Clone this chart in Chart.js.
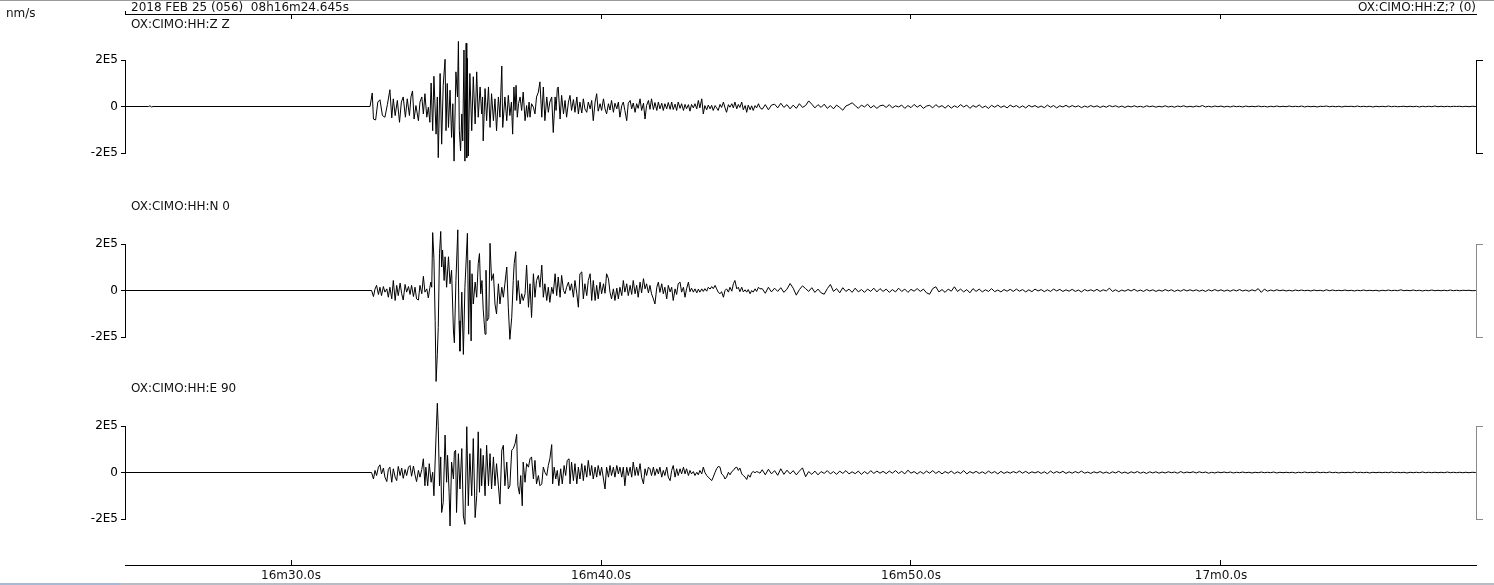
<!DOCTYPE html>
<html><head><meta charset="utf-8">
<script src="https://cdn.jsdelivr.net/npm/chart.js@4.4.1/dist/chart.umd.min.js"></script>
<style>
html,body{margin:0;padding:0;background:#fff;width:1494px;height:585px;overflow:hidden;font-family:"DejaVu Sans",sans-serif;font-size:12px;color:#111}
.c{position:absolute;left:0}
.tr{filter:contrast(2.2)}
.t{position:absolute;white-space:pre;line-height:14px;font-size:12px}
</style></head><body>
<div style="position:absolute;left:0;top:0;width:1494px;height:1px;background:#9a9a9a"></div>
<div style="position:absolute;left:0;top:583px;width:120px;height:2px;background:#a9b9d3"></div>
<div style="position:absolute;left:120px;top:583px;width:1374px;height:2px;background:#b8bcc4"></div>
<div class="c" style="top:0"><canvas id="frame" width="1494" height="585"></canvas></div>
<div class="c tr" style="top:30px"><canvas id="cz" width="1494" height="150"></canvas></div>
<div class="c tr" style="top:195px"><canvas id="cn" width="1494" height="195"></canvas></div>
<div class="c tr" style="top:395px"><canvas id="ce" width="1494" height="165"></canvas></div>
<div class="t" style="left:6px;top:6px">nm/s</div>
<div class="t" style="left:131px;top:0px">2018 FEB 25 (056)  08h16m24.645s</div>
<div class="t" style="right:18px;top:0px">OX:CIMO:HH:Z;? (0)</div>
<div class="t" style="left:131px;top:17px">OX:CIMO:HH:Z Z</div>
<div class="t" style="left:131px;top:199px">OX:CIMO:HH:N 0</div>
<div class="t" style="left:131px;top:381px">OX:CIMO:HH:E 90</div>
<script>
// time axis: seconds after 08h16m00s ; amplitudes in units of 1000 nm/s
const tMin = 24.645, tMax = 68.226;
const timeTickValues = [30, 40, 50, 60];
const timeTickLabels = ['16m30.0s', '16m40.0s', '16m50.0s', '17m0.0s'];
const ampTickValues = [-200, 0, 200];
const ampTickLabels = ['-2E5', '0', '2E5'];
const bracketTickValues = [-200, 200];

// ---- Z component: pre-event + main arrivals
const zOnsetTimes = [24.645, 25.40, 25.45, 25.50, 25.55, 32.55,
32.62, 32.66, 32.73, 32.80, 32.87, 32.95, 33.03, 33.11, 33.19, 33.25,
33.30, 33.36, 33.43, 33.50, 33.56, 33.62, 33.69, 33.75, 33.82, 33.87,
33.92, 33.97, 34.03, 34.11, 34.16, 34.22, 34.27, 34.32, 34.38, 34.43,
34.48, 34.52, 34.57, 34.61, 34.68, 34.72, 34.75, 34.81, 34.86, 34.91,
34.97, 35.00, 35.04, 35.08, 35.13, 35.18, 35.22, 35.26, 35.32, 35.37,
35.40, 35.43, 35.47, 35.51, 35.54, 35.58, 35.61, 35.65, 35.67, 35.69,
35.72, 35.77, 35.83, 35.88, 35.94, 35.99, 36.04, 36.10, 36.15, 36.18,
36.20, 36.26, 36.31, 36.37, 36.42, 36.47, 36.53, 36.58, 36.63, 36.69,
36.74, 36.80, 36.83, 36.90, 36.96, 37.01, 37.06, 37.11, 37.15, 37.19,
37.23, 37.26, 37.30, 37.34, 37.39, 37.44, 37.49, 37.55, 37.60, 37.63,
37.68, 37.71, 37.76, 37.82, 37.87, 37.92, 37.98, 38.03, 38.09, 38.14,
38.19, 38.25, 38.30, 38.35, 38.41, 38.46, 38.52, 38.55, 38.59, 38.62,
38.68, 38.73, 38.79, 38.84, 38.89, 38.95];
const zOnset = [0, 0, 3, -2, 0, 0,
58, -54, -58, 19, 29, -39, -46, 9, 72, -49,
33, -39, 26, -68, 19, 41, -46, 33, -39, 41,
67, -54, 4, -61, 19, 41, -32, 55, -46, -3,
-68, 101, -104, 130, -119, 41, -220, 142, -162, 91,
203, -104, 99, -90, 70, -133, 12, -235, 149, 41,
280, -104, -191, -32, -148, 243, -235, 272, -220, 207,
-213, 142, -104, 128, -75, 149, -46, 84, -32, 41,
-148, 77, -61, 84, -90, 55, -61, 33, -104, 41,
-46, 174, -90, 41, -61, 48, -39, 19, -119, 84,
-17, 91, -46, 12, 41, -17, 62, -61, 4, -46,
19, -46, 12, -3, -32, 41, 62, 106, -46, 84,
-61, 41, -25, 19, 41, -112, 41, -17, 77, 84,
-54, 48, -32, 26, -46, 19];

// ---- N component
const nOnsetTimes = [24.645, 32.60, 32.66, 32.71, 32.76, 32.82, 32.87, 32.92, 32.98, 33.03,
33.09, 33.14, 33.19, 33.25, 33.30, 33.36, 33.41, 33.46, 33.52, 33.57,
33.62, 33.68, 33.73, 33.79, 33.84, 33.89, 33.95, 34.00, 34.05, 34.11,
34.16, 34.22, 34.27, 34.32, 34.38, 34.43, 34.48, 34.51, 34.54, 34.57,
34.61, 34.65, 34.68, 34.72, 34.75, 34.79, 34.83, 34.86, 34.89, 34.94,
34.97, 35.02, 35.08, 35.13, 35.18, 35.24, 35.27, 35.32, 35.38, 35.42,
35.45, 35.51, 35.56, 35.61, 35.69, 35.73, 35.77, 35.81, 35.84, 35.88,
35.94, 35.99, 36.04, 36.08, 36.12, 36.16, 36.20, 36.26, 36.29, 36.33,
36.38, 36.42, 36.47, 36.53, 36.58, 36.63, 36.69, 36.74, 36.80, 36.85,
36.90, 36.96, 37.01, 37.06, 37.12, 37.17, 37.20, 37.25, 37.28, 37.33,
37.39, 37.44, 37.49, 37.55, 37.60, 37.66, 37.71, 37.76, 37.82, 37.87,
37.92, 37.98, 38.03, 38.09, 38.14, 38.19, 38.25, 38.30, 38.35, 38.41,
38.46, 38.52, 38.57, 38.62, 38.68, 38.73, 38.79, 38.84, 38.89, 38.95];
const nOnset = [0, 0, -26, 6, 22, -17, 14, -22, 17, -7,
7, -29, 14, -36, 43, -43, 22, -22, 32, -14,
-41, 26, -7, 17, -17, 22, -26, 14, -36, -41,
22, -14, 61, -7, 7, -32, 14, 36, 14, 249,
138, -130, -391, -275, -159, 159, 254, 101, 174, 43,
145, 14, 145, 29, 87, -174, -225, 43, 261, -130,
-261, -7, -275, 14, 246, -188, 130, -217, 72, -58,
36, -29, 116, 159, -14, 43, -80, -188, 87, -130,
-116, 203, 43, 72, -58, -101, 29, -58, 14, -29,
29, 101, -72, -210, -116, 43, 116, 167, -43, 43,
-58, -14, -43, -14, 109, -72, 29, -116, 72, -29,
43, 65, 14, 109, -29, 29, -43, 14, -51, 14,
-14, 72, -22, 58, -29, 65, 0, -14, 14, 36];

// ---- E component
const eOnsetTimes = [24.645, 32.60, 32.66, 32.71, 32.76, 32.82, 32.87, 32.92, 32.98, 33.03,
33.09, 33.14, 33.19, 33.25, 33.30, 33.36, 33.41, 33.46, 33.52, 33.57,
33.62, 33.68, 33.73, 33.79, 33.84, 33.89, 33.95, 34.00, 34.05, 34.11,
34.16, 34.22, 34.27, 34.32, 34.35, 34.41, 34.46, 34.52, 34.57, 34.61,
34.68, 34.72, 34.75, 34.79, 34.83, 34.86, 34.91, 34.97, 35.02, 35.05,
35.10, 35.13, 35.18, 35.24, 35.27, 35.31, 35.34, 35.40, 35.45, 35.51,
35.56, 35.61, 35.67, 35.72, 35.77, 35.83, 35.88, 35.94, 35.99, 36.04,
36.08, 36.12, 36.15, 36.20, 36.26, 36.31, 36.37, 36.42, 36.47, 36.53,
36.58, 36.63, 36.69, 36.74, 36.80, 36.85, 36.90, 36.96, 37.01, 37.06,
37.12, 37.17, 37.23, 37.28, 37.32, 37.37, 37.41, 37.46, 37.49, 37.55,
37.60, 37.66, 37.71, 37.76, 37.82, 37.87, 37.92, 37.98, 38.03, 38.09,
38.14, 38.19, 38.25, 38.30, 38.35, 38.41, 38.44, 38.49, 38.54, 38.59,
38.64, 38.70, 38.75, 38.81, 38.86, 38.91, 38.97];
const eOnset = [0, 0, -28, 9, -13, 23, 33, -6, 19, -20,
-39, 13, 23, -42, 16, -20, -35, 26, -13, 19,
-25, 13, -13, 23, 30, -16, 28, -10, -39, 9,
-20, 13, 59, -57, 23, -57, 38, -42, 1, -100,
161, 298, 197, -57, 67, -172, -129, 161, -42, 74,
-85, -230, 45, -28, 88, 96, -172, 81, -71, 103,
-187, -223, 197, -143, 81, -100, 146, -194, -100, 175,
-85, 103, -57, 74, -100, 117, -57, 81, -71, 67,
-57, 38, -57, -136, 96, 117, -57, 45, -71, -57,
96, 103, 125, 164, -57, -93, -13, -143, 45, -42,
38, 23, 59, 67, -28, 52, -49, -13, -57, -49,
23, 1, -13, 30, 59, 120, -49, 23, -28, 9,
-57, 16, -49, 30, -13, 52, 59];

// ---- coda (shared sample times)
const codaTimes = [39.00, 39.05, 39.11, 39.16, 39.22, 39.27, 39.32, 39.38, 39.43, 39.48,
39.54, 39.59, 39.65, 39.70, 39.75, 39.81, 39.86, 39.91, 39.97, 40.02,
40.08, 40.13, 40.18, 40.24, 40.29, 40.34, 40.40, 40.45, 40.51, 40.56,
40.61, 40.67, 40.72, 40.77, 40.83, 40.88, 40.94, 40.99, 41.04, 41.10,
41.15, 41.20, 41.26, 41.31, 41.37, 41.42, 41.47, 41.53, 41.58, 41.63,
41.69, 41.74, 41.80, 41.85, 41.90, 41.96, 42.01, 42.06, 42.12, 42.17,
42.23, 42.28, 42.33, 42.39, 42.44, 42.49, 42.55, 42.60, 42.66, 42.71,
42.76, 42.82, 42.87, 42.92, 42.98, 43.03, 43.09, 43.14, 43.19, 43.25,
43.30, 43.35, 43.41, 43.46, 43.52, 43.57, 43.62, 43.68, 43.73, 43.78,
43.84, 43.89, 43.95, 44.00, 44.05, 44.11, 44.16, 44.22, 44.27, 44.32,
44.38, 44.43, 44.48, 44.54, 44.59, 44.65, 44.70, 44.75, 44.81, 44.86,
44.91, 44.97, 45.02, 45.08, 45.13];
const zCoda = [48, -17, 30, -25, 41, -32, 19, -28, 33, -10,
-25, 19, -10, 26, -61, 19, 55, -20, 12, -17,
33, -10, -32, 12, -15, 26, -25, 14, -10, 19,
-46, 4, 19, -17, -61, 14, 26, -10, 15, -25,
12, -8, 33, -17, 14, -54, 4, 26, -12, 33,
-13, 17, -17, 19, -10, 14, -17, 12, -10, 17,
-12, 19, -13, 10, -17, 19, -8, 12, -17, 9,
-10, 8, -20, 9, -6, 12, -10, 26, -6, 33,
-32, 4, -14, 6, -10, 5, -17, 4, -6, -17,
9, -4, 19, -6, -25, 8, -3, 12, -6, 19,
-10, 9, -4, 19, -14, 4, -25, 6, -14, 3,
-17, 4, -6, 12, -5];
const nCoda = [0, 29, -29, 43, -14, -72, 72, 80, -36, 29,
-22, 43, 72, -43, 43, -43, 22, -36, 36, -14,
29, -12, 72, 51, -7, -36, 7, -43, 10, -36,
14, -22, 43, -7, 29, -22, 22, -17, 43, -14,
22, -29, 36, -10, 51, 7, 29, -10, 22, -14,
-36, -58, 14, 36, -8, 29, -14, 14, -36, 22,
-6, 14, -43, 7, -17, 29, 36, -7, 14, -29,
7, 36, -5, 10, -7, 7, -10, 6, -7, 7,
-4, 8, -3, 14, 6, 17, 8, 22, 7, -7,
-14, -5, -29, 0, 7, -7, 14, -3, 29, 43,
7, 14, -5, 14, -6, 3, -7, 4, -14, 0,
-7, 7, -4, 14, 7];
const eCoda = [-49, 45, -35, 38, -49, 23, -28, 38, -35, 30,
-20, 52, -13, 30, -28, 23, -20, 30, -13, 23,
-28, -71, 23, -20, 30, -13, 23, -20, 30, -6,
23, -20, 23, -57, 23, -13, 23, -20, 45, -13,
23, -13, 38, -20, -49, 16, -13, 23, 16, -13,
23, -13, 16, -6, 23, -20, 9, -13, 23, -20,
-35, 9, 30, -20, 16, -13, 16, -6, 23, -6,
16, -13, 9, -6, 4, -13, 1, -10, 9, -6,
23, 1, -13, -20, -28, -35, -20, 1, 16, 26,
23, -6, -13, -28, -20, 1, -10, 4, 9, 19,
23, 9, 19, -6, -13, -20, -30, -10, -20, -1,
4, -1, 4, 1, -3];

// ---- late tail (shared sample times)
const tailTimes = [45.2, 45.3, 45.4, 45.5, 45.6, 45.7, 45.8, 45.9, 46.0, 46.1,
46.2, 46.3, 46.4, 46.5, 46.6, 46.7, 46.8, 46.9, 47.0, 47.1,
47.2, 47.3, 47.4, 47.5, 47.6, 47.7, 47.8, 47.9, 48.0, 48.1,
48.2, 48.3, 48.4, 48.5, 48.6, 48.7, 48.8, 48.9, 49.0, 49.1,
49.2, 49.3, 49.4, 49.5, 49.6, 49.7, 49.8, 49.9, 50.0, 50.1,
50.2, 50.3, 50.4, 50.5, 50.6, 50.7, 50.8, 50.9, 51.0, 51.1,
51.2, 51.3, 51.4, 51.5, 51.6, 51.7, 51.8, 51.9, 52.0, 52.1,
52.2, 52.3, 52.4, 52.5, 52.6, 52.7, 52.8, 52.9, 53.0, 53.1,
53.2, 53.3, 53.4, 53.5, 53.6, 53.7, 53.8, 53.9, 54.0, 54.1,
54.2, 54.3, 54.4, 54.5, 54.6, 54.7, 54.8, 54.9, 55.0, 55.1,
55.2, 55.3, 55.4, 55.5, 55.6, 55.7, 55.8, 55.9, 56.0, 56.1,
56.2, 56.3, 56.4, 56.5, 56.6, 56.7, 56.8, 56.9, 57.0, 57.1,
57.2, 57.3, 57.4, 57.5, 57.6, 57.7, 57.8, 57.9, 58.0, 58.1,
58.2, 58.3, 58.4, 58.5, 58.6, 58.7, 58.8, 58.9, 59.0, 59.1,
59.2, 59.3, 59.4, 59.5, 59.6, 59.7, 59.8, 59.9, 60.0, 60.1,
60.2, 60.3, 60.4, 60.5, 60.6, 60.7, 60.8, 60.9, 61.0, 61.1,
61.2, 61.3, 61.4, 61.5, 61.6, 61.7, 61.8, 61.9, 62.0, 62.1,
62.2, 62.3, 62.4, 62.5, 62.6, 62.7, 62.8, 62.9, 63.0, 63.1,
63.2, 63.3, 63.4, 63.5, 63.6, 63.7, 63.8, 63.9, 64.0, 64.1,
64.2, 64.3, 64.4, 64.5, 64.6, 64.7, 64.8, 64.9, 65.0, 65.1,
65.2, 65.3, 65.4, 65.5, 65.6, 65.7, 65.8, 65.9, 66.0, 66.1,
66.2, 66.3, 66.4, 66.5, 66.6, 66.7, 66.8, 66.9, 67.0, 67.1,
67.2, 67.3, 67.4, 67.5, 67.6, 67.7, 67.8, 67.9, 68.0, 68.1,
68.22];
const zTail = [-12, 8, -14, 6, 10, -6, 14, -4, 8, -10,
6, -8, 12, -4, 4, 24, 10, -6, 8, -4,
10, -8, 4, -10, 6, -4, -16, 2, 8, 16,
4, -8, 6, -2, 10, -6, 4, -8, 3, 6,
-4, 8, -6, 3, -2, 6, -8, 4, -5, 9,
-3, 6, -8, 2, 5, -6, 8, -3, 4, -7,
5, -7, 3, -4, 8, -2, 6, -8, 4, -3,
7, -5, 2, -8, 5, -3, 6, -4, 3, -6,
6, -2, 4, -5, 3, -6, 5, -2, 4, -4,
2, -5, 6, -3, 4, -6, 3, -2, 5, -3,
4, -2, 3, -5, 2, -3, 4, -2, 3, -4,
2, -3, 4, -1, 3, -3, 2, -4, 2, -2,
3, -2, 1, -3, 3, -1, 2, -3, 1, -2,
3, -2, 1, -3, 2, -1, 3, -2, 1, -2,
2, -1, 4, -2, 1, -2, 2, -1, 2, -2,
1, -2, 2, -1, 1, -2, 2, -1, 1, -1,
2, -1, 1, -2, 1, -1, 2, -1, 1, -1,
2, -1, 1, -1, 2, -2, 1, -1, 1, -2,
1, 0, 2, -1, 1, -1, 1, -2, 1, 0,
1, -1, 2, -1, 1, -1, 1, -2, 1, -1,
1, -1, 2, -1, 1, -1, 0, 1, -1, 1,
-1, 1, -2, 1, -1, 1, -1, 2, -1, 1,
-1, 1, -1, 1, 0, 1, -1, 1, -1, 1,
0];
const nTail = [8, -12, 14, -6, 10, -4, 12, -8, 6, 30,
10, -20, 4, 20, 8, -4, 12, -8, 6, -10,
-16, 8, 26, -4, 8, -10, 12, -4, 6, -8,
10, -6, 4, -8, 6, -4, 10, -6, 8, -4,
6, -8, 4, -6, 10, -4, 6, -8, 5, -3,
8, -4, 6, -10, -16, 8, 16, -6, 4, -8,
6, -3, 16, -4, 6, -6, 4, -10, 8, -4,
6, -6, 3, -4, 8, -5, 2, -6, 4, -3,
5, -4, 6, -3, 4, -6, 3, -5, 6, -2,
4, -5, 3, -4, 6, -2, 5, -4, 3, -3,
5, -4, 2, -6, 4, -2, 3, -3, 5, -4,
3, -2, 10, -4, 3, -5, 2, -3, 4, -2,
5, -3, 2, -4, 4, -2, 3, -4, 2, -3,
4, -2, 3, -4, 2, -3, 4, -2, 3, -2,
3, -3, 2, -4, 3, -2, 4, -2, 3, -3,
2, -3, 3, -2, 4, -2, 2, -3, 3, -2,
8, -8, 6, -3, 2, -2, 3, -1, 2, -2,
1, -2, 2, -1, 2, -1, 1, -2, 2, -1,
1, -2, 3, -1, 2, -1, 1, -1, 2, -1,
1, -2, 1, -1, 2, -1, 1, -1, 1, -2,
1, -1, 2, -1, 1, -1, 3, -1, 1, -1,
2, -1, 1, -2, 1, -1, 2, -1, 1, -1,
1, -1, 2, -1, 1, -1, 1, 0, 1, -1,
0];
const eTail = [12, -10, 14, -6, 8, -12, 16, -8, 10, -6,
8, -10, 6, 20, -18, 4, -8, 6, -10, 4,
-4, 8, -6, 4, -8, 6, -4, 8, -6, 3,
-5, 6, -8, 4, -6, 8, -4, 6, -3, 5,
-5, 6, -3, 8, -4, 5, -6, 10, -3, 4,
-6, 4, -5, 6, -3, 8, -4, 5, -6, 4,
-3, 6, -5, 3, -4, 8, -6, 4, -3, 5,
-4, 3, -5, 6, -3, 4, -6, 5, -4, 3,
-3, 4, -2, 6, -3, 5, -4, 3, -2, 4,
-4, 3, -5, 6, -3, 4, -2, 5, -4, 3,
-3, 4, -2, 6, -3, 2, -4, 3, -2, 4,
-3, 2, -4, 3, -2, 5, -3, 2, -4, 3,
-2, 4, -3, 2, -4, 3, -2, 3, -3, 2,
-2, 3, -1, 2, -3, 4, -2, 2, -1, 3,
-2, 3, -1, 2, -3, 1, -2, 2, -1, 2,
-1, 2, -2, 1, -1, 2, -1, 1, -2, 1,
-1, 2, -1, 1, -1, 2, -2, 1, -1, 1,
-1, 1, -2, 1, -1, 2, -1, 1, -1, 2,
-1, 1, -1, 2, -1, 1, -2, 1, -1, 1,
-1, 2, -1, 1, -1, 1, -2, 1, -1, 1,
-1, 1, -1, 2, -1, 1, -1, 1, -2, 1,
-1, 1, -1, 2, -1, 1, -1, 1, -1, 1,
-1, 2, -1, 1, -1, 1, -1, 1, -1, 1,
0];

Chart.defaults.font.family = 'DejaVu Sans';
Chart.defaults.font.size = 12;
Chart.defaults.color = '#111';

function toPoints(times, values) { return times.map((t, i) => ({x: t, y: values[i]})); }

function traceChart(id, times, values, bracketColor, padTop, padBottom) {
  return new Chart(document.getElementById(id), {
    type: 'line',
    data: {datasets: [{data: toPoints(times, values), borderColor: '#000', borderWidth: 1,
      pointRadius: 0, tension: 0, clip: false, fill: false}]},
    options: {
      responsive: false, animation: false, devicePixelRatio: 1,
      layout: {padding: {top: padTop, bottom: padBottom, left: 0, right: 0}},
      plugins: {legend: {display: false}, tooltip: {enabled: false}},
      scales: {
        x: {type: 'linear', min: tMin, max: tMax, display: false},
        y: {type: 'linear', position: 'left', min: -200, max: 200,
          afterBuildTicks: s => { s.ticks = ampTickValues.map(v => ({value: v})); },
          afterFit: s => { s.width = 125; },
          ticks: {callback: v => ampTickLabels[ampTickValues.indexOf(v)], padding: 3, autoSkip: false, maxRotation: 0, color: '#333'},
          grid: {drawOnChartArea: false, drawTicks: true, tickLength: 4, color: '#000', lineWidth: 1},
          border: {display: true, color: '#000', width: 1}},
        yr: {type: 'linear', position: 'right', min: -200, max: 200,
          afterBuildTicks: s => { s.ticks = bracketTickValues.map(v => ({value: v})); },
          afterFit: s => { s.width = 18; },
          ticks: {display: false},
          grid: {drawOnChartArea: false, drawTicks: true, tickLength: 7, color: bracketColor, lineWidth: 1},
          border: {display: true, color: bracketColor, width: 1}}
      }
    }
  });
}

traceChart('cz', zOnsetTimes.concat(codaTimes, tailTimes), zOnset.concat(zCoda, zTail), '#000', 30, 27);
traceChart('cn', nOnsetTimes.concat(codaTimes, tailTimes), nOnset.concat(nCoda, nTail), '#848484', 49, 53);
traceChart('ce', eOnsetTimes.concat(codaTimes, tailTimes), eOnset.concat(eCoda, eTail), '#848484', 31, 41);

const startMarker = {
  id: 'startMarker',
  afterDraw(chart) {
    const xs = chart.scales.xTop, ctx = chart.ctx;
    const px = Math.round(xs.getPixelForValue(tMin)) + 0.5;
    ctx.save(); ctx.strokeStyle = '#000'; ctx.lineWidth = 1;
    ctx.beginPath(); ctx.moveTo(px, xs.bottom - 3); ctx.lineTo(px, xs.bottom); ctx.stroke();
    ctx.restore();
  }
};

new Chart(document.getElementById('frame'), {
  type: 'line',
  data: {datasets: []},
  plugins: [startMarker],
  options: {
    responsive: false, animation: false, devicePixelRatio: 1,
    layout: {padding: {top: 0, bottom: 0, left: 125, right: 18}},
    plugins: {legend: {display: false}, tooltip: {enabled: false}},
    scales: {
      x: {type: 'linear', position: 'bottom', min: tMin, max: tMax,
        afterBuildTicks: s => { s.ticks = timeTickValues.map(v => ({value: v})); },
        afterFit: s => { s.height = 20; },
        ticks: {callback: v => timeTickLabels[timeTickValues.indexOf(v)], padding: 9, autoSkip: false, maxRotation: 0, color: '#111'},
        grid: {drawOnChartArea: false, drawTicks: true, tickLength: -5, color: '#000'},
        border: {display: true, color: '#000', width: 1}},
      xTop: {type: 'linear', position: 'top', min: tMin, max: tMax,
        afterBuildTicks: s => { s.ticks = timeTickValues.map(v => ({value: v})); },
        afterFit: s => { s.height = 14; },
        ticks: {display: false},
        grid: {drawOnChartArea: false, drawTicks: true, tickLength: -5, color: '#000'},
        border: {display: true, color: '#000', width: 1}},
      y: {display: false, min: 0, max: 1}
    }
  }
});
</script>
</body></html>
